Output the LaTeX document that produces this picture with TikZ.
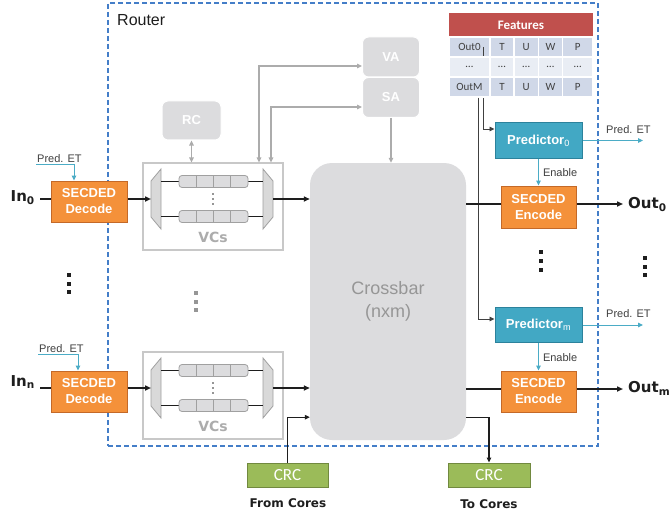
\documentclass[tikz,border=0pt]{standalone}
\usepackage{fontspec}
\setmainfont{Liberation Sans}
\newfontfamily\verdfont{DejaVu Sans}
\newfontfamily\califont{Carlito}
\usetikzlibrary{arrows.meta,calc}

\definecolor{routerblue}{RGB}{68,126,200}
\definecolor{eccfill}{RGB}{244,145,58}
\definecolor{eccborder}{RGB}{196,105,40}
\definecolor{predfill}{RGB}{66,168,196}
\definecolor{predborder}{RGB}{44,130,156}
\definecolor{predline}{RGB}{75,172,198}
\definecolor{crcfill}{RGB}{155,187,89}
\definecolor{crcborder}{RGB}{113,137,63}
\definecolor{hdrred}{RGB}{192,80,77}
\definecolor{rowa}{RGB}{208,216,232}
\definecolor{rowb}{RGB}{233,237,244}
\definecolor{blockgray}{RGB}{220,220,222}
\definecolor{framegray}{RGB}{200,200,200}
\definecolor{muxgray}{RGB}{217,217,217}
\definecolor{edgegray}{RGB}{160,160,160}
\definecolor{arrowgray}{RGB}{172,172,172}
\definecolor{textgray}{RGB}{150,150,150}
\definecolor{inkblack}{RGB}{30,30,30}
\definecolor{celltext}{RGB}{64,64,64}

\newcommand\setfs[2]{\fontsize{#1}{#2}\selectfont}

\tikzset{
  dataline/.style={draw=inkblack, line width=1.6pt},
  dataarrow/.style={dataline, -{Triangle[length=6pt,width=5pt]}},
  cline/.style={draw=inkblack, line width=1.1pt, -{Triangle[length=5pt,width=4.5pt]}},
  thinline/.style={draw=celltext, line width=0.9pt, -{Triangle[length=5pt,width=4.5pt]}},
  tealarrow/.style={draw=predline, line width=1pt, -{Triangle[length=5pt,width=4.5pt]}},
  garrow/.style={draw=arrowgray, line width=1.2pt, -{Triangle[length=5pt,width=4.5pt]}},
  garrowtwo/.style={draw=arrowgray, line width=1.2pt, {Triangle[length=5pt,width=4.5pt]}-{Triangle[length=5pt,width=4.5pt]}},
  routerbox/.style={draw=routerblue, line width=1.5pt, dash pattern=on 5pt off 3pt},
  eccbox/.style={draw=eccborder, fill=eccfill, line width=1pt, minimum width=76pt, minimum height=41pt,
    inner sep=0pt, text=white, align=center, font=\bfseries\setfs{13}{16}},
  predbox/.style={draw=predborder, fill=predfill, line width=1pt, minimum width=87pt, minimum height=35pt,
    inner sep=0pt, text=white, font=\bfseries\setfs{13}{16}},
  crcbox/.style={draw=crcborder, fill=crcfill, line width=1pt, minimum width=81pt, minimum height=24pt,
    inner sep=0pt, text=white, font=\califont\setfs{17}{20}},
  gblock/.style={fill=blockgray, draw=white, line width=1pt, rounded corners=6pt, inner sep=0pt,
    text=white, font=\bfseries\setfs{13}{16}},
  xbarstyle/.style={fill=blockgray, rounded corners=22pt, inner sep=0pt, text=textgray,
    align=center, font=\setfs{18}{23}},
  vcframe/.style={draw=framegray, line width=1.2pt, inner sep=0pt},
  muxshape/.style={draw=edgegray, fill=muxgray, line width=0.8pt},
  bufcell/.style={draw=edgegray, fill=blockgray, line width=0.8pt},
  bufsep/.style={draw=edgegray, line width=0.8pt},
  vclabel/.style={text=arrowgray, font=\verdfont\bfseries\setfs{14}{16}},
  portlabel/.style={text=inkblack, inner sep=0pt, font=\verdfont\bfseries\setfs{15}{18}},
  smalltext/.style={text=celltext, inner sep=0pt, font=\setfs{11}{13}},
  corelabel/.style={text=inkblack, font=\verdfont\bfseries\setfs{12}{14}},
  hdrcell/.style={fill=hdrred, draw=white, line width=1pt, minimum width=145pt, minimum height=24pt,
    inner sep=0pt, text=white, font=\califont\bfseries\setfs{13}{15}},
  tcell/.style={draw=white, line width=1.2pt, minimum height=20pt, inner sep=0pt,
    text=celltext, font=\califont\setfs{11}{13}},
  vcunit/.pic={
    \draw[muxshape] (-62,-18) -- (-52,-30) -- (-52,30) -- (-62,18) -- cycle;
    \draw[muxshape] (50,-30) -- (60,-18) -- (60,18) -- (50,30) -- cycle;
    \foreach \r in {-17.5,17.5} {
      \draw[dataline] (-52,\r) -- (-34,\r);
      \draw[dataline] (35,\r) -- (50,\r);
      \draw[bufcell, rounded corners=3pt] (-34,\r-6) rectangle (35,\r+6);
      \foreach \k in {1,2,3} \draw[bufsep] (-34+17.25*\k,\r-6) -- (-34+17.25*\k,\r+6);
    }
    \foreach \d in {-5,0,5} \fill[textgray] (-1.4,\d-1.4) rectangle (1.4,\d+1.4);
    \coordinate (-in) at (-62,0);
    \coordinate (-out) at (60,0);
    \node[vclabel] (-lbl) at (0,38) {VCs};
  }
}

\begin{document}
\begin{tikzpicture}[x=1pt,y=-1pt]
\useasboundingbox[fill=white] (0,0) rectangle (669,516);

% router boundary
\node[routerbox, minimum width=490pt, minimum height=443pt, inner sep=0pt] (router) at (353,224.5) {};
\node[anchor=base west, inner sep=0pt, text=inkblack, font=\setfs{16}{18}] (routerlbl) at (117,25.5) {Router};

% allocators, route computation, crossbar
\node[gblock, minimum width=57pt, minimum height=40pt] (va) at (391,57) {VA};
\node[gblock, minimum width=57pt, minimum height=40pt] (sa) at (391,97.5) {SA};
\node[gblock, minimum width=59pt, minimum height=39pt] (rc) at (191.5,120.5) {RC};
\node[xbarstyle, minimum width=156pt, minimum height=277pt] (xbar) at (388,301.5) {Crossbar\\(nxm)};

% virtual channel blocks
\node[vcframe, minimum width=140pt, minimum height=87pt] (vc0) at (213,206.5) {};
\pic (vcq0) at (213,199) {vcunit};
\node[vcframe, minimum width=140pt, minimum height=87pt] (vcn) at (213,395.5) {};
\pic (vcqn) at (213,388) {vcunit};

% control paths
\draw[garrowtwo] (rc.south) -- (rc.south |- vc0.north);
\draw[garrowtwo] ([xshift=46pt]vc0.north) |- ([yshift=-9pt]va.west);
\draw[garrowtwo] ([xshift=58pt]vc0.north) |- ([yshift=-9.5pt]sa.west);
\draw[garrow] (sa.south) -- (sa.south |- xbar.north);

% input ports
\node[eccbox] (dec0) at (89,201.5) {SECDED\\Decode};
\node[eccbox] (decn) at (89,391.5) {SECDED\\Decode};
\node[portlabel, anchor=east] (in0) at (35,198) {In\textsubscript{0}};
\node[portlabel, anchor=east] (inn) at (35,382) {In\textsubscript{n}};
\coordinate (d0) at ([yshift=2.5pt]dec0.west);
\coordinate (dn) at ([yshift=3.5pt]decn.west);
\draw[dataline] ([xshift=5pt]d0 -| in0.east) -- (d0);
\draw[dataline] ([xshift=5pt]dn -| inn.east) -- (dn);
\draw[dataarrow] ([yshift=2.5pt]dec0.east) -- (vcq0-in);
\draw[dataarrow] ([yshift=3.5pt]decn.east) -- (vcqn-in);
\draw[dataarrow] (vcq0-out) -- (vcq0-out -| xbar.west);
\draw[dataarrow] (vcqn-out) -- (vcqn-out -| xbar.west);

% early-termination hints at the decoders
\coordinate (pin0) at (36,164);
\coordinate (pinn) at (38,354);
\draw[tealarrow] (pin0) -| ([xshift=-15pt]dec0.north);
\draw[tealarrow] (pinn) -| ([xshift=-11pt]decn.north);
\node[smalltext, anchor=base west] (pinl0) at (37,162) {Pred. ET};
\node[smalltext, anchor=base west] (pinln) at (39,352) {Pred. ET};

% predictors and output encoders
\node[predbox] (pred0) at (538.5,140.5) {Predictor\textsubscript{\mdseries 0}};
\node[predbox] (predm) at (538.5,325) {Predictor\textsubscript{\mdseries m}};
\node[eccbox, minimum width=75pt, minimum height=42pt] (enc0) at (538.5,207) {SECDED\\Encode};
\node[eccbox, minimum width=75pt, minimum height=41pt] (encm) at (538.5,391.5) {SECDED\\Encode};

% feature table
\node[hdrcell] (feat) at (521,25) {Features};
\foreach \xx/\ww/\t [count=\c] in {469.5/41/Out0, 502/24/T, 526.25/24.5/U, 550.5/24/W, 577.75/30.5/P}
  \node[tcell, fill=rowa, minimum width=\ww] (r1c\c) at (\xx,47) {\t};
\draw[thinline] ([xshift=13.5pt]r1c1.center) |- ([yshift=11.5pt]pred0.west);
\foreach \xx/\ww [count=\c] in {469.5/41, 502/24, 526.25/24.5, 550.5/24, 577.75/30.5}
  \node[tcell, fill=rowb, minimum width=\ww] (r2c\c) at (\xx,67) {\ldots};
\foreach \xx/\ww/\t [count=\c] in {469.5/41/OutM, 502/24/T, 526.25/24.5/U, 550.5/24/W, 577.75/30.5/P}
  \node[tcell, fill=rowa, minimum width=\ww] (r3c\c) at (\xx,87) {\t};
\draw[thinline] ([xshift=8.5pt]r3c1.south) |- ([yshift=6pt]predm.west);

\draw[tealarrow] (pred0.south) -- (enc0.north)
  node[midway, anchor=west, smalltext, xshift=4pt, yshift=-1pt] (en0) {Enable};
\draw[tealarrow] (predm.south) -- (encm.north)
  node[midway, anchor=west, smalltext, xshift=4pt, yshift=-1pt] (enm) {Enable};

\coordinate (pet0) at (643,140.5);
\coordinate (petm) at (643,325);
\draw[tealarrow] (pred0.east) -- (pet0);
\draw[tealarrow] (predm.east) -- (petm);
\node[smalltext, anchor=base west] (petl0) at (606,133) {Pred. ET};
\node[smalltext, anchor=base west] (petlm) at (606,317) {Pred. ET};

\node[portlabel, anchor=west] (out0) at (628,204.5) {Out\textsubscript{0}};
\node[portlabel, anchor=west] (outm) at (628,388.5) {Out\textsubscript{m}};
\coordinate (e0) at ([yshift=3pt]enc0.west);
\coordinate (em) at ([yshift=2.5pt]encm.west);
\draw[dataline] (e0 -| xbar.east) -- (e0);
\draw[dataline] (em -| xbar.east) -- (em);
\draw[dataarrow] (e0 -| enc0.east) -- ([xshift=-5pt]e0 -| out0.west);
\draw[dataarrow] (em -| encm.east) -- ([xshift=-5pt]em -| outm.west);

% core interface
\node[crcbox] (crcin) at (287.5,475) {CRC};
\node[crcbox, minimum width=82pt] (crcout) at (489,475) {CRC};
\draw[cline] (crcin.north) |- ([yshift=23pt]xbar.south west);
\draw[cline] ([yshift=23pt]xbar.south east) -| (crcout.north);
\node[corelabel] (fromc) at (288,503) {From Cores};
\node[corelabel] (toc) at (489,504) {To Cores};

% ellipses between port groups
\foreach \yy in {275,283.5,292} \fill[inkblack] (67,\yy-2) rectangle (71,\yy+2);
\foreach \yy in {293,301.5,310} \fill[textgray] (194,\yy-2) rectangle (198,\yy+2);
\foreach \yy in {252,261,270} \fill[inkblack] (539,\yy-2) rectangle (543,\yy+2);
\foreach \yy in {258,266.5,275} \fill[inkblack] (643,\yy-2) rectangle (647,\yy+2);
\end{tikzpicture}
\end{document}
